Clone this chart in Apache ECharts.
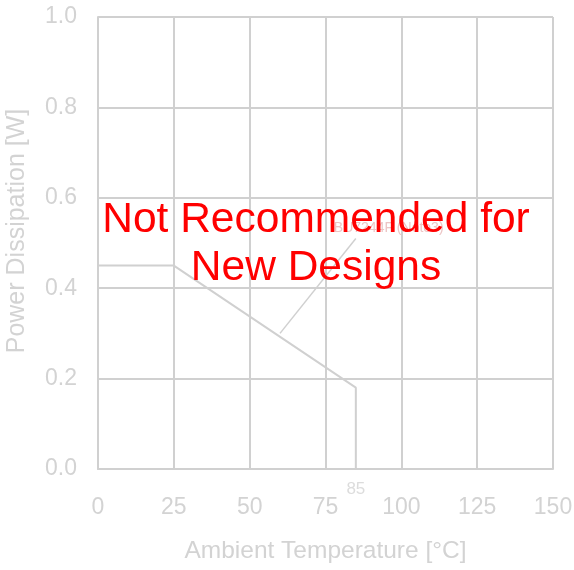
<!DOCTYPE html>
<html><head><meta charset="utf-8">
<script src="https://cdn.jsdelivr.net/npm/echarts@6/dist/echarts.min.js"></script>
<style>html,body{margin:0;padding:0;background:#fff}#c{width:574px;height:570px}</style>
</head><body><div id="c"></div>
<script>
const deratingX = [0, 25, 85, 85];
const deratingY = [0.45, 0.45, 0.18, 0];
const leaderX = [60, 85];
const leaderY = [0.30, 0.51];
const leaderText = 'BU7244F (Note3)';
const markerX = [85];
const markerLabel = ['85'];
const xTicks = [0, 25, 50, 75, 100, 125, 150];
const yTicks = [0.0, 0.2, 0.4, 0.6, 0.8, 1.0];
const xName = 'Ambient Temperature [°C]';
const yName = 'Power Dissipation [W]';
const banner = 'Not Recommended for\nNew Designs';

const gray = '#d0d0d0';
const txt = '#d3d3d3';
const font = 'Liberation Sans, Arial, sans-serif';
const chart = echarts.init(document.getElementById('c'));
chart.setOption({
  animation: false,
  grid: {left: 98, right: 21, top: 17, bottom: 101, containLabel: false, outerBoundsMode: 'none'},
  xAxis: {
    type: 'value', min: xTicks[0], max: xTicks[xTicks.length-1], interval: 25,
    name: xName, nameLocation: 'middle', nameGap: 70,
    nameTextStyle: {color: txt, fontSize: 24.5, fontFamily: font},
    axisLine: {show: true, lineStyle: {color: gray, width: 2}},
    axisTick: {show: false},
    axisLabel: {color: txt, fontSize: 23, fontFamily: font, margin: 27},
    splitLine: {show: true, lineStyle: {color: gray, width: 2}}
  },
  yAxis: {
    type: 'value', min: yTicks[0], max: yTicks[yTicks.length-1], interval: 0.2,
    name: yName, nameLocation: 'middle', nameGap: 68,
    nameTextStyle: {color: txt, fontSize: 25, fontFamily: font, padding: [0, 0, 0, 24]},
    axisLine: {show: true, lineStyle: {color: gray, width: 2}},
    axisTick: {show: false},
    axisLabel: {color: txt, fontSize: 23, fontFamily: font, margin: 21, formatter: v => v.toFixed(1)},
    splitLine: {show: true, lineStyle: {color: gray, width: 2}}
  },
  series: [
    {type: 'line', data: deratingX.map((x,i)=>[x, deratingY[i]]), symbol: 'none',
     lineStyle: {color: gray, width: 2}, z: 3},
    {type: 'line', data: leaderX.map((x,i)=>[x, leaderY[i]]), symbol: 'none',
     lineStyle: {color: gray, width: 1.5}, z: 3,
     endLabel: {show: true, formatter: leaderText, color: '#ecc4c4', fontSize: 14, fontFamily: font, distance: -22, offset: [0, -10]}},
    {type: 'scatter', data: markerX.map((x,i)=>({value:[x, 0], label:{formatter: markerLabel[i]}})), symbolSize: 0,
     label: {show: true, position: 'bottom', distance: 12, color: txt, fontSize: 17, fontFamily: font}, z: 3}
  ],
  graphic: [{
    type: 'text', x: 316, y: 244, z: 10,
    style: {text: banner, fill: '#ff0000', font: '42.5px ' + font, align: 'center', verticalAlign: 'middle', lineHeight: 48}
  }]
});
</script></body></html>
